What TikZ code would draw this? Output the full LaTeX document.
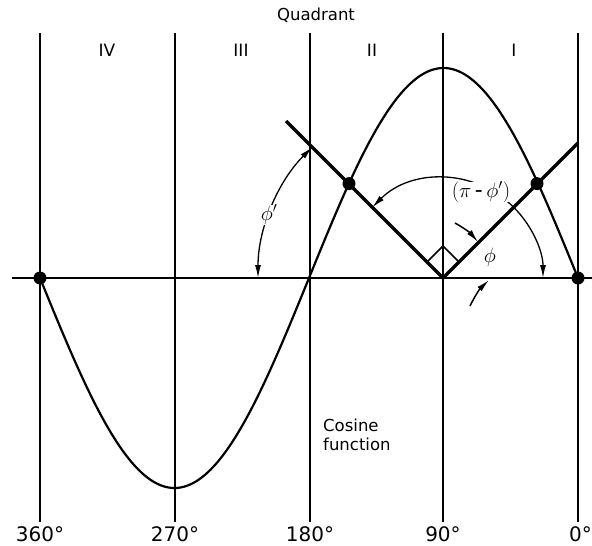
\documentclass[tikz,border=0pt]{standalone}
\usepackage{fontspec}
\setmainfont{DejaVu Sans}
\usetikzlibrary{arrows.meta,calc}
\begin{document}
\begin{tikzpicture}[x=1pt,y=-1pt,
  thinline/.style={line width=2.2pt},
  thickline/.style={line width=3.2pt},
  dimarc/.style={line width=1.3pt,{Latex[length=13pt,width=6pt]}-{Latex[length=13pt,width=6pt]}},
  onearrow/.style={line width=1.5pt,-{Latex[length=13pt,width=6pt]}},
  dot/.style={circle,fill=black,inner sep=0pt,minimum size=13pt},
  lbl/.style={inner sep=1pt,font=\fontsize{16.5}{19}\selectfont},
  mlbl/.style={inner sep=1pt,font=\fontsize{22}{26}\selectfont},
  deg/.style={inner sep=0pt,anchor=base,font=\fontsize{20}{24}\selectfont},
  quad/.style={inner sep=0pt,font=\fontsize{17}{20}\selectfont}]
\useasboundingbox (0,0) rectangle (592,546);
% named points
\coordinate (O) at (443,278);
\coordinate (axL) at (12,278);
\coordinate (axR) at (592,278);
\coordinate (dL) at (286,121);
\coordinate (dR) at (578,143);
% vertical quadrant lines
\foreach \n/\x in {v360/40,v270/175,v180/310,v90/443,v0/578}{
  \coordinate (\n t) at (\x,33);
  \coordinate (\n b) at (\x,522);
  \draw[thinline] (\n t) -- (\n b);
}
% axis
\draw[thinline] (axL) -- (axR);
% curve
\draw[thinline] plot[domain=0:360,samples=181,smooth] ({578-1.494444*\x},{278-210*sin(\x)});
% diagonals
\draw[thickline] (dL) -- (O) -- (dR);
% right angle mark
\draw[line width=1.5pt] (427,262) -- (443,246) -- (459,262);
% dots
\node[dot] (p1) at (40,278) {};
\node[dot] (p2) at (349,183.6) {};
\node[dot] (p3) at (537,183.6) {};
\node[dot] (p4) at (578,278) {};
% phi' arc (y axis is flipped, so angles are negative)
\draw[dimarc] ($(O)+(-135:185)$) arc[start angle=-135,end angle=-180,radius=185];
\node[mlbl,fill=white,inner sep=0pt] (phip) at ($(O)+(-160:185)$) {$\phi'$};
% pi - phi' arc
\draw[dimarc] ($(O)+(-135:100)$) arc[start angle=-135,end angle=0,radius=100];
\node[mlbl,fill=white,inner sep=0pt] (pipp) at (481,192) {$(\pi\,\mbox{-}\,\phi')$};
% phi arrows
\coordinate (a1s) at (455,223);
\coordinate (a1e) at (478,242);
\coordinate (a2s) at (470,306);
\coordinate (a2e) at (489,280);
\draw[onearrow] (a1s) to[bend left=10] (a1e);
\draw[onearrow] (a2s) to[bend left=10] (a2e);
\node[mlbl] (phi) at (490,257) {$\phi$};
% texts
\node[lbl,inner sep=0pt] (qd) at (316,15) {Quadrant};
\node[quad] (q4) at (107,50) {IV};
\node[quad] (q3) at (241,50) {III};
\node[quad] (q2) at (372,50) {II};
\node[quad] (q1) at (514,50) {I};
\node[lbl,inner sep=0pt,anchor=base west] (cos1) at (323,431) {Cosine};
\node[lbl,inner sep=0pt,anchor=base west] (cos2) at (323,450) {function};
\node[deg] (d360) at (40,541) {360°};
\node[deg] (d270) at (175,541) {270°};
\node[deg] (d180) at (310,541) {180°};
\node[deg] (d90) at (443,541) {90°};
\node[deg,anchor=base east] (d0) at (592,541) {0°};
\end{tikzpicture}
\end{document}
